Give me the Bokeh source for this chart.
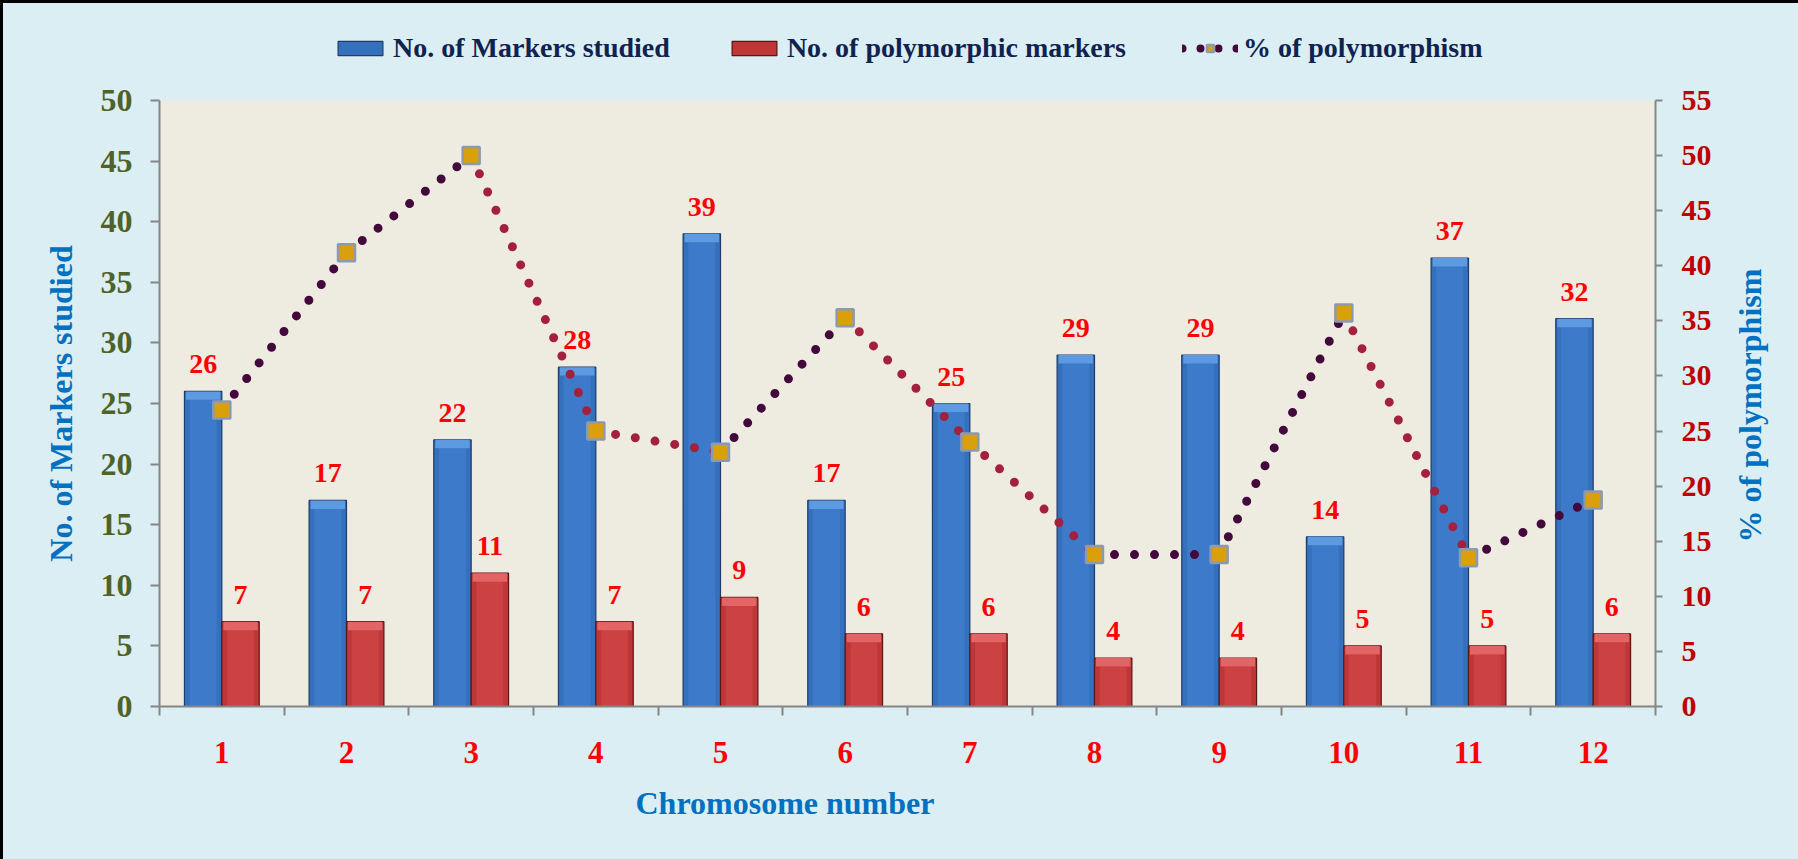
import math
from bokeh.plotting import figure
from bokeh.layouts import column, row
from bokeh.models import (Range1d, LinearAxis, FixedTicker, Legend, LegendItem,
                          Label, Title, ColumnDataSource)
from bokeh.core.properties import value
from bokeh.embed import file_html
from bokeh.resources import INLINE

# ---------------- data ----------------
chromosomes = ["1", "2", "3", "4", "5", "6", "7", "8", "9", "10", "11", "12"]
markers_studied = [26, 17, 22, 28, 39, 17, 25, 29, 29, 14, 37, 32]
polymorphic = [7, 7, 11, 7, 9, 6, 6, 4, 4, 5, 5, 6]
pct_poly = [26.92, 41.18, 50.0, 25.0, 23.08, 35.29, 24.0, 13.79, 13.79, 35.71, 13.51, 18.75]
left_ticks = [0, 5, 10, 15, 20, 25, 30, 35, 40, 45, 50]
right_ticks = [0, 5, 10, 15, 20, 25, 30, 35, 40, 45, 50, 55]

SERIF = "Liberation Serif"
BG = "#DBEEF4"
TOTAL_W = 1795
TOP_H = 77
MAIN_H = 779
RIGHT_W = 80
MAIN_W = TOTAL_W - RIGHT_W

BLUE, BLUE_EDGE, BLUE_IN, BLUE_BEV = "#3570BC", "#1C3B68", "#3D7BCA", "#5E9AE2"
RED, RED_EDGE, RED_IN, RED_BEV = "#BE3637", "#5A1515", "#CC4141", "#E26464"
UP_C, DOWN_C = "#43093D", "#A3203E"

xs = [i + 1 for i in range(len(chromosomes))]
blue_x = [x - 0.15 for x in xs]
red_x = [x + 0.15 for x in xs]
BAR_W = 0.3
BEV = 0.7

# ================= main chart =================
p = figure(width=MAIN_W, height=MAIN_H, output_backend="svg", toolbar_location=None,
           x_range=Range1d(0.5, 12.5), y_range=Range1d(0, 50),
           min_border_left=156, min_border_right=63, min_border_top=20,
           min_border_bottom=153,
           background_fill_color="#EEEBE1", border_fill_color=BG)
p.extra_y_ranges = {"pct": Range1d(0, 55)}
p.grid.visible = False
p.outline_line_color = None

blue_src = ColumnDataSource(dict(x=blue_x, top=markers_studied,
                                 bev=[v - BEV for v in markers_studied],
                                 lbl=[str(v) for v in markers_studied]))
red_src = ColumnDataSource(dict(x=red_x, top=polymorphic,
                                bev=[v - BEV for v in polymorphic],
                                lbl=[str(v) for v in polymorphic]))

p.vbar(x="x", top="top", bottom=0, width=BAR_W, source=blue_src,
       fill_color=BLUE, line_color=BLUE_EDGE, line_width=1.2)
p.vbar(x="x", top="bev", bottom=0, width=BAR_W * 0.72, source=blue_src,
       fill_color=BLUE_IN, line_color=None)
p.vbar(x="x", top="top", bottom="bev", width=BAR_W * 0.92, source=blue_src,
       fill_color=BLUE_BEV, line_color=None)

p.vbar(x="x", top="top", bottom=0, width=BAR_W, source=red_src,
       fill_color=RED, line_color=RED_EDGE, line_width=1.2)
p.vbar(x="x", top="bev", bottom=0, width=BAR_W * 0.72, source=red_src,
       fill_color=RED_IN, line_color=None)
p.vbar(x="x", top="top", bottom="bev", width=BAR_W * 0.92, source=red_src,
       fill_color=RED_BEV, line_color=None)

seg_x, seg_y, seg_c = [], [], []
for i in range(len(xs) - 1):
    seg_x.append([xs[i], xs[i + 1]])
    seg_y.append([pct_poly[i], pct_poly[i + 1]])
    seg_c.append(DOWN_C if pct_poly[i + 1] < pct_poly[i] else UP_C)
line_src = ColumnDataSource(dict(xs=seg_x, ys=seg_y, c=seg_c))
p.multi_line(xs="xs", ys="ys", line_color="c", source=line_src,
             y_range_name="pct", line_width=9, line_dash="0 20", line_cap="round")
p.scatter(xs, pct_poly, y_range_name="pct", marker="square", size=17,
          fill_color="#D9A00C", line_color="#8B9AB4", line_width=2.5)

for src in (blue_src, red_src):
    p.text(x="x", y="top", text="lbl", source=src, text_align="center",
           text_baseline="bottom", y_offset=-18, text_color="#FF0000",
           text_font=value(SERIF), text_font_style="bold",
           text_font_size="28px")

grey = "#868686"
xa = p.xaxis[0]
xa.ticker = FixedTicker(ticks=xs, minor_ticks=[0.5 + i for i in range(13)])
xa.major_label_overrides = {x: c for x, c in zip(xs, chromosomes)}
xa.major_tick_out = 0
xa.major_tick_in = 0
xa.minor_tick_out = 9
xa.minor_tick_in = 0
xa.minor_tick_line_color = grey
xa.minor_tick_line_width = 2
xa.axis_line_color = grey
xa.axis_line_width = 2
xa.major_label_text_font = SERIF
xa.major_label_text_font_style = "bold"
xa.major_label_text_font_size = "31px"
xa.major_label_text_color = "#FF0000"
xa.major_label_standoff = 26

ya = p.yaxis[0]
ya.ticker = FixedTicker(ticks=left_ticks, minor_ticks=[])
ya.major_tick_out = 9
ya.major_tick_in = 0
ya.major_tick_line_color = grey
ya.major_tick_line_width = 2
ya.axis_line_color = grey
ya.axis_line_width = 2
ya.major_label_text_font = SERIF
ya.major_label_text_font_style = "bold"
ya.major_label_text_font_size = "32px"
ya.major_label_text_color = "#4F6228"
ya.major_label_standoff = 18
ya.axis_label = "No. of Markers studied"
ya.axis_label_text_font = SERIF
ya.axis_label_text_font_style = "bold"
ya.axis_label_text_font_size = "32px"
ya.axis_label_text_color = "#0070C0"
ya.axis_label_standoff = 19

ra = LinearAxis(y_range_name="pct", ticker=FixedTicker(ticks=right_ticks, minor_ticks=[]))
ra.major_tick_out = 7
ra.major_tick_in = 0
ra.major_tick_line_color = grey
ra.major_tick_line_width = 2
ra.axis_line_color = grey
ra.axis_line_width = 2
ra.major_label_text_font = SERIF
ra.major_label_text_font_style = "bold"
ra.major_label_text_font_size = "30px"
ra.major_label_text_color = "#C00000"
ra.major_label_standoff = 19
p.add_layout(ra, "right")

p.add_layout(Title(text="Chromosome number", align="left", offset=476,
                   standoff=35, text_font=SERIF, text_font_style="bold",
                   text_font_size="32px", text_color="#0070C0"), "below")

# ================= right strip: secondary axis title =================
rt = figure(width=RIGHT_W, height=MAIN_H, output_backend="svg", toolbar_location=None,
            x_range=Range1d(0, 1), y_range=Range1d(0, 1), min_border=0,
            x_axis_location=None, y_axis_location=None,
            background_fill_color=BG, border_fill_color=BG)
rt.grid.visible = False
rt.outline_line_color = None
rt.add_layout(Label(x=31, y=301, x_units="screen", y_units="screen",
                    text="% of polymorphism", angle=math.pi / 2,
                    text_align="center", text_baseline="middle",
                    text_font=SERIF, text_font_style="bold",
                    text_font_size="32px", text_color="#0070C0"))

# ================= top strip: legend =================
# the series are drawn here too, but outside the visible range, so that
# the legend can show their glyphs
tp = figure(width=TOTAL_W, height=TOP_H, output_backend="svg", toolbar_location=None,
            x_range=Range1d(100, 101), y_range=Range1d(100, 101), min_border=0,
            x_axis_location=None, y_axis_location=None,
            background_fill_color=BG, border_fill_color=BG)
tp.grid.visible = False
tp.outline_line_color = None
lg_blue = tp.vbar(x=blue_x, top=markers_studied, width=BAR_W,
                  fill_color=BLUE, line_color=BLUE_EDGE, line_width=1.2)
lg_red = tp.vbar(x=red_x, top=polymorphic, width=BAR_W,
                 fill_color=RED, line_color=RED_EDGE, line_width=1.2)
lg_line = tp.line(x=xs, y=pct_poly, line_color=UP_C, line_width=8,
                  line_dash="0 18", line_cap="round")
lg_mark = tp.scatter(x=xs, y=pct_poly, marker="square", size=17,
                     fill_color="#D9A00C", line_color="#8B9AB4", line_width=2.5)
legend = Legend(items=[
    LegendItem(label="No. of Markers studied", renderers=[lg_blue]),
    LegendItem(label="No. of polymorphic markers", renderers=[lg_red]),
    LegendItem(label="% of polymorphism", renderers=[lg_line, lg_mark]),
], orientation="horizontal", location=(329, 16), border_line_color=None,
    background_fill_alpha=0, padding=0, margin=0, spacing=56,
    glyph_width=56, glyph_height=18, label_standoff=5,
    label_text_font=SERIF, label_text_font_style="bold",
    label_text_font_size="28px", label_text_color="#10224F")
tp.add_layout(legend)

layout = column(tp, row(p, rt, spacing=0), spacing=0)
layout.styles = {"border-top": "3px solid #000000", "border-left": "3px solid #000000",
                 "background-color": BG}

open("out.html", "w").write(file_html(layout, INLINE))
